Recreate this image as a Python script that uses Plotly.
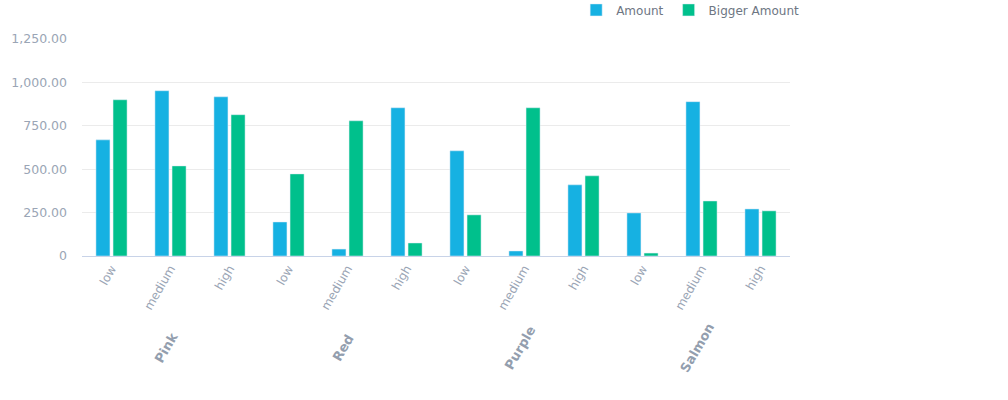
import plotly.graph_objects as go

groups = ["Pink", "Red", "Purple", "Salmon"]
levels = ["low", "medium", "high"]
amount = [669, 952, 917, 196, 40, 854, 606, 29, 410, 248, 889, 271]
bigger_amount = [900, 519, 814, 473, 779, 75, 237, 854, 462, 17, 317, 260]
y_tick_vals = [0, 250, 500, 750, 1000, 1250]
y_tick_text = ["0", "250.00", "500.00", "750.00", "1,000.00", "1,250.00"]

x_labels = [lv for g in groups for lv in levels]
x_pos = list(range(len(x_labels)))

FONT = "DejaVu Sans"
TICK_COLOR = "#9aa5b5"

fig = go.Figure()
fig.add_trace(go.Bar(x=x_pos, y=amount, name="Amount", marker_color="#16b1e2"))
fig.add_trace(go.Bar(x=x_pos, y=bigger_amount, name="Bigger Amount", marker_color="#00c08c"))

for gi, g in enumerate(groups):
    fig.add_annotation(
        x=gi * len(levels) + 1, xref="x", y=0, yref="paper",
        yshift=-92, xshift=-5, text="<b>" + g + "</b>", textangle=-60,
        showarrow=False, xanchor="center", yanchor="middle",
        font=dict(family=FONT, size=13, color="#939eae"),
    )

fig.update_layout(
    width=1008, height=400,
    margin=dict(l=82, r=218, t=39, b=144, autoexpand=False),
    paper_bgcolor="white", plot_bgcolor="white",
    barmode="group", bargap=0.42, bargroupgap=0.18,
    font=dict(family=FONT, size=12, color=TICK_COLOR),
    showlegend=True,
    legend=dict(
        orientation="h", x=1.02, xanchor="right", y=1.134, yanchor="middle",
        font=dict(family=FONT, size=12, color="#6e7683"),
        itemwidth=30, tracegroupgap=0,
    ),
    xaxis=dict(
        tickmode="array", tickvals=x_pos, ticktext=x_labels, tickangle=-60,
        range=[-0.5, len(x_pos) - 0.5], showgrid=False, zeroline=False,
        showline=True, linecolor="#c8d3e8", linewidth=1, ticks="", automargin=False,
        tickfont=dict(family=FONT, size=12, color=TICK_COLOR),
    ),
    yaxis=dict(
        range=[0, 1250], tickmode="array", tickvals=y_tick_vals, ticktext=y_tick_text,
        showgrid=True, gridcolor="#ebebeb", zeroline=False, showline=False, automargin=False,
        ticks="", ticklen=0, ticklabelstandoff=14,
        tickfont=dict(family=FONT, size=12.5, color=TICK_COLOR),
    ),
)

fig.write_html("out.html", config={"displayModeBar": False},
               post_script="document.body.style.margin='0';")
